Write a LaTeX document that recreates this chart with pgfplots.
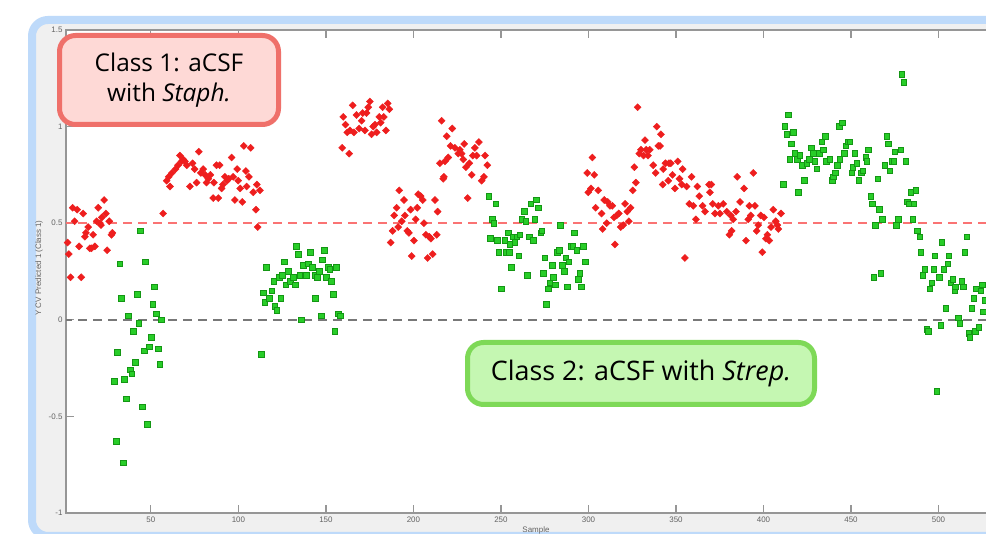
\documentclass[border=0pt]{standalone}
\usepackage{fontspec}
\setmainfont{Liberation Sans}
\newfontfamily\annfont{Open Sans}
\usepackage{pgfplots}
\pgfplotsset{compat=1.18}
\usepackage{pgfplotstable}
\definecolor{framebl}{RGB}{190,218,250}
\definecolor{bggray}{RGB}{240,240,240}
\definecolor{spine}{RGB}{150,150,150}
\definecolor{tickt}{RGB}{100,100,100}
\definecolor{mred}{RGB}{238,30,30}
\definecolor{mgreenf}{RGB}{40,205,40}
\definecolor{mgreend}{RGB}{20,150,20}
\definecolor{refpink}{RGB}{250,115,115}
\definecolor{refgray}{RGB}{120,120,120}
\definecolor{bonefill}{RGB}{254,217,214}
\definecolor{bonedraw}{RGB}{239,112,106}
\definecolor{btwofill}{RGB}{197,247,178}
\definecolor{btwodraw}{RGB}{126,217,87}

\pgfplotstableread{
x y
1.3 0.32
2.4 0.40
3.1 0.34
4.1 0.22
5.3 0.58
6.4 0.51
7.9 0.57
9.0 0.38
10.2 0.22
11.3 0.55
12.3 0.43
12.9 0.45
14.2 0.48
15.1 0.37
16.0 0.37
17.0 0.44
18.0 0.38
19.0 0.51
19.9 0.58
20.9 0.50
21.5 0.49
22.0 0.53
23.3 0.62
24.3 0.55
25.0 0.36
26.2 0.51
27.5 0.44
28.0 0.45
57.0 0.55
59.0 0.72
60.2 0.74
60.9 0.69
62.0 0.76
64.1 0.78
65.5 0.80
66.6 0.85
67.5 0.82
68.5 0.83
69.5 0.82
70.5 0.80
72.3 0.69
73.8 0.81
75.0 0.78
76.1 0.71
77.4 0.87
78.5 0.76
79.9 0.78
81.0 0.75
81.8 0.71
82.8 0.73
84.0 0.75
85.6 0.63
86.0 0.71
87.5 0.80
88.5 0.63
89.3 0.80
90.4 0.68
91.2 0.70
92.3 0.74
93.5 0.72
94.5 0.73
96.1 0.84
97.0 0.74
98.0 0.62
99.3 0.78
99.9 0.72
101.0 0.68
102.2 0.61
103.1 0.90
104.3 0.77
104.7 0.69
106.0 0.74
107.0 0.89
108.5 0.66
110.0 0.57
110.5 0.70
111.0 0.48
112.3 0.67
159.3 0.89
159.9 1.05
161.2 1.01
162.2 0.97
163.3 0.86
163.7 0.98
165.3 1.11
166.0 0.97
167.5 1.06
169.0 0.99
170.4 1.03
171.0 1.07
172.3 0.98
173.2 1.07
174.2 1.10
175.1 1.13
176.1 0.96
177.0 1.00
178.0 1.01
179.0 0.97
180.5 1.05
181.3 1.02
182.4 1.10
183.1 1.05
184.3 0.98
185.3 1.12
186.2 1.09
187.0 0.40
188.1 0.46
189.0 0.54
190.4 0.58
191.3 0.48
191.9 0.67
193.3 0.51
194.6 0.62
195.1 0.54
196.5 0.46
197.4 0.45
198.4 0.57
199.0 0.33
200.3 0.41
201.3 0.52
202.2 0.58
202.7 0.65
204.1 0.64
205.3 0.62
206.0 0.50
207.1 0.44
208.1 0.32
209.0 0.43
210.0 0.42
211.0 0.34
212.3 0.62
213.3 0.44
213.8 0.56
215.1 0.81
216.1 1.03
217.0 0.73
217.4 0.74
218.0 0.82
219.0 0.95
219.9 0.84
221.2 0.90
222.2 0.99
223.7 0.89
225.6 0.86
226.5 0.88
227.5 0.86
228.5 0.83
229.0 0.91
230.0 0.79
231.0 0.63
231.9 0.81
233.3 0.75
233.9 0.85
235.1 0.89
236.1 0.85
237.4 0.92
239.0 0.72
240.3 0.74
240.9 0.85
242.2 0.80
299.3 0.76
299.9 0.66
301.4 0.68
302.2 0.84
303.3 0.75
304.1 0.58
305.6 0.67
307.5 0.55
308.1 0.47
309.0 0.62
310.4 0.50
311.0 0.61
312.3 0.59
313.6 0.59
314.6 0.53
315.1 0.39
316.1 0.54
317.3 0.55
318.4 0.48
319.9 0.49
320.9 0.60
322.2 0.56
323.1 0.51
324.1 0.58
325.3 0.67
326.2 0.79
327.1 0.71
328.1 1.10
329.0 0.86
330.0 0.88
331.5 0.85
332.3 0.93
333.0 0.88
334.0 0.85
335.0 0.88
337.0 0.80
338.4 0.76
339.0 1.00
339.9 0.90
340.9 0.90
341.4 0.96
342.4 0.70
342.7 0.78
344.0 0.81
345.6 0.72
346.0 0.81
347.0 0.81
348.0 0.75
349.4 0.68
351.0 0.82
352.0 0.73
353.3 0.70
353.8 0.78
355.1 0.32
356.1 0.69
357.6 0.60
358.9 0.74
359.9 0.59
361.4 0.52
362.2 0.69
363.3 0.64
365.2 0.59
366.6 0.56
368.9 0.70
369.4 0.66
370.2 0.70
371.0 0.60
372.3 0.55
374.2 0.59
375.1 0.55
377.0 0.60
379.0 0.56
380.5 0.44
381.3 0.54
381.8 0.46
382.7 0.52
384.3 0.56
385.0 0.74
386.6 0.61
388.9 0.68
390.0 0.41
391.3 0.52
391.9 0.59
392.7 0.54
394.2 0.76
395.1 0.59
396.1 0.46
397.0 0.49
398.4 0.54
399.3 0.35
400.3 0.53
401.4 0.42
402.2 0.44
403.3 0.41
404.3 0.48
405.6 0.57
407.0 0.51
407.9 0.49
408.5 0.47
410.0 0.55
}\redpts

\pgfplotstableread{
x y
29.2 -0.32
30.2 -0.63
31.0 -0.17
32.3 0.29
33.2 0.11
34.4 -0.74
35.0 -0.31
36.1 -0.41
37.2 0.02
38.2 -0.26
39.1 -0.28
40.1 -0.06
41.2 -0.22
42.4 0.13
43.1 -0.02
44.1 0.46
45.2 -0.45
46.2 -0.16
47.0 0.30
48.1 -0.54
49.3 -0.14
50.4 -0.09
51.1 0.08
51.9 0.17
53.3 0.03
54.4 -0.15
55.1 -0.23
56.1 0.00
113.2 -0.18
114.2 0.14
115.1 0.09
116.1 0.27
117.6 0.11
119.1 0.15
120.3 0.20
120.9 0.07
122.0 0.05
123.3 0.22
124.3 0.11
125.2 0.23
126.2 0.30
127.1 0.18
128.7 0.25
129.8 0.20
131.3 0.22
132.7 0.18
133.0 0.38
134.2 0.34
135.1 0.23
136.1 0.00
137.0 0.28
139.0 0.23
139.9 0.29
141.0 0.35
142.4 0.27
143.7 0.23
144.1 0.11
145.0 0.22
146.2 0.25
147.5 0.02
148.1 0.31
149.0 0.36
150.4 0.22
151.3 0.27
152.3 0.26
153.3 0.20
154.2 0.13
155.1 -0.06
156.1 0.27
157.0 0.03
158.4 0.02
243.1 0.64
244.1 0.42
245.0 0.52
246.0 0.50
247.1 0.60
248.1 0.41
248.9 0.35
250.2 0.16
252.3 0.41
252.9 0.35
254.2 0.45
254.7 0.35
255.1 0.39
256.1 0.27
257.0 0.43
258.0 0.40
259.0 0.43
260.3 0.33
260.9 0.44
262.0 0.52
263.3 0.56
264.3 0.51
265.0 0.23
266.2 0.43
267.1 0.60
268.5 0.41
269.3 0.52
270.2 0.62
271.3 0.58
272.9 0.45
273.5 0.46
274.2 0.24
275.1 0.32
276.1 0.08
277.0 0.16
278.0 0.19
279.5 0.28
279.9 0.22
281.2 0.18
282.2 0.35
283.3 0.36
283.9 0.49
285.0 0.28
286.2 0.25
287.1 0.32
287.9 0.17
288.9 0.30
290.0 0.38
291.0 0.38
291.9 0.45
293.3 0.36
294.2 0.21
295.1 0.24
296.1 0.17
297.0 0.38
298.2 0.30
411.3 0.70
412.3 1.00
413.3 0.96
414.2 1.06
415.1 0.83
416.1 0.91
417.0 0.97
418.0 0.86
419.3 0.83
419.9 0.66
420.9 0.85
422.2 0.80
423.3 0.72
424.7 0.81
426.2 0.83
427.5 0.89
428.5 0.86
429.4 0.82
430.4 0.78
431.9 0.86
433.3 0.92
434.2 0.88
435.3 0.95
436.1 0.82
438.0 0.83
439.3 0.72
439.9 0.74
441.2 0.76
442.2 0.80
443.3 1.00
443.7 0.83
445.0 1.02
446.2 0.86
447.1 0.90
448.5 0.92
449.3 0.92
450.6 0.76
451.0 0.79
452.3 0.86
453.3 0.81
454.6 0.72
456.1 0.76
456.8 0.77
458.6 0.84
459.0 0.82
460.1 0.88
461.3 0.64
462.2 0.60
463.1 0.22
464.1 0.49
465.3 0.73
466.2 0.57
467.0 0.24
468.1 0.52
469.3 0.80
470.4 0.95
471.3 0.91
472.3 0.77
473.5 0.82
474.5 0.82
475.1 0.87
476.1 0.49
477.0 0.52
478.4 0.88
479.1 1.27
480.3 1.23
481.3 0.82
482.2 0.61
483.3 0.60
484.1 0.66
485.3 0.52
486.0 0.60
487.1 0.67
487.9 0.46
489.4 0.43
490.0 0.35
491.0 0.23
492.3 0.26
493.3 -0.05
494.3 -0.06
495.1 0.16
496.1 0.19
497.4 0.26
498.0 0.33
499.1 -0.37
500.5 0.22
501.3 -0.03
502.0 0.40
503.1 0.26
504.1 0.06
505.3 0.29
506.0 0.33
507.0 0.19
508.1 0.21
509.3 0.15
509.8 0.17
511.3 0.01
512.3 -0.02
513.4 0.20
514.2 0.17
515.0 0.35
516.1 0.43
517.4 -0.07
517.9 -0.09
519.1 0.06
520.1 0.11
520.9 -0.06
521.8 0.16
523.1 -0.04
524.1 0.15
524.9 0.18
525.6 0.04
526.6 0.10
}\greenpts

\begin{document}
\begin{tikzpicture}[x=1bp,y=1bp]
\begin{scope}
\clip (0,0) rectangle (986,534);
\fill[white] (0,0) rectangle (986,534);
\draw[fill=bggray, draw=framebl, line width=8bp, rounded corners=16bp] (32,-2) rectangle (1100,514);
\coordinate (AO) at (66,21);
\begin{axis}[
  at={(AO)}, anchor=south west, scale only axis,
  width=942bp, height=483bp,
  xmin=1.5, xmax=539.7, ymin=-1, ymax=1.5,
  axis background/.style={fill=white},
  axis line style={draw=spine, line width=1.6bp},
  tick style={draw=spine, line width=1.2bp},
  major tick length=8bp,
  tick align=inside,
  xtick={50,100,150,200,250,300,350,400,450,500},
  ytick={-1,-0.5,0,0.5,1,1.5},
  yticklabels={-1,-0.5,0,0.5,1,1.5},
  xtick pos=both, ytick pos=both,
  ticklabel style={font=\fontsize{8}{9}\selectfont, text=tickt},
  /pgf/number format/assume math mode=true,
  clip=true,
]
\addplot[draw=refpink, color=refpink, line width=1.6bp, dash pattern=on 9bp off 6bp] coordinates {(0,0.5) (560,0.5)};
\addplot[draw=refgray, color=refgray, line width=1.6bp, dash pattern=on 9bp off 6bp] coordinates {(0,0) (560,0)};
\addplot[only marks, mark=square*, mark size=2.5bp, mark options={rotate=45, fill=mred, draw=mred, line width=0.4bp}] table {\redpts};
\addplot[only marks, mark=square*, mark size=2.8bp, mark options={fill=mgreenf, draw=mgreend, line width=0.8bp}] table {\greenpts};
\end{axis}
\node[rotate=90, font=\fontsize{8}{9}\selectfont, text=tickt] at (39,266) {Y CV Predicted 1 (Class 1)};
\node[anchor=north, font=\fontsize{8}{9}\selectfont, text=tickt] at (536,11) {Sample};
\draw[fill=bonefill, draw=bonedraw, line width=5bp, rounded corners=16bp] (59.5,409.5) rectangle (278.5,498.5);
\node[align=center, font=\annfont\fontsize{24.5}{30}\selectfont] at (169,454) {Class 1: aCSF\\with \textit{Staph.}};
\draw[fill=btwofill, draw=btwodraw, line width=5bp, rounded corners=16bp] (467.5,129.5) rectangle (814.5,191.5);
\node[font=\annfont\fontsize{27}{30}\selectfont] at (641,160.5) {Class 2: aCSF with \textit{Strep.}};
\end{scope}
\pgfresetboundingbox
\path[use as bounding box] (0,0) rectangle (986,534);
\end{tikzpicture}
\end{document}
